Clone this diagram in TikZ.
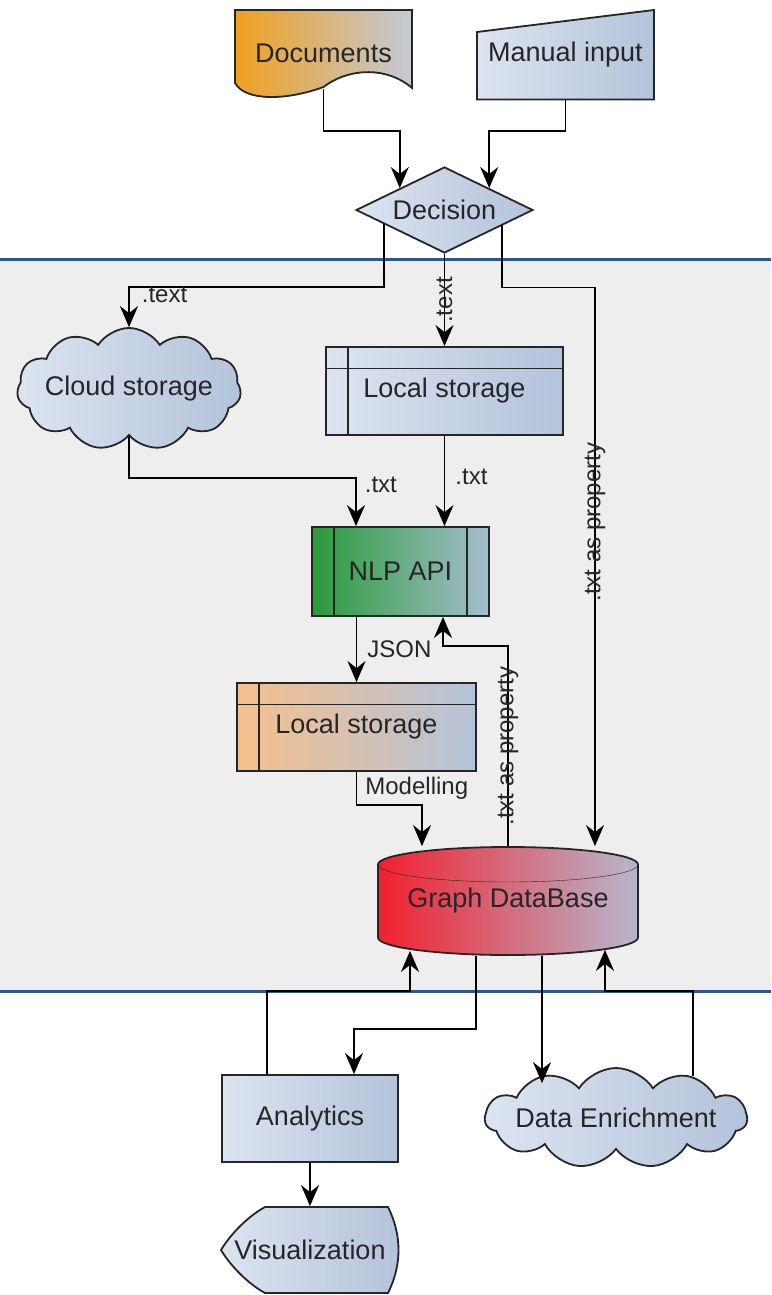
\documentclass[tikz,border=0pt]{standalone}
\usepackage{fontspec}
\setmainfont{Liberation Sans}
\usetikzlibrary{arrows.meta,shapes.geometric,shapes.symbols,backgrounds,positioning}
\definecolor{bandgray}{HTML}{EEEEEE}
\definecolor{bandblue}{HTML}{2F5597}
\definecolor{edgegray}{HTML}{262626}
\definecolor{pale}{HTML}{DCE4F1}
\definecolor{steel}{HTML}{B3C3DA}
\definecolor{docorange}{HTML}{F0A020}
\definecolor{docgray}{HTML}{C3CAD6}
\definecolor{nlpgreen}{HTML}{2A9A3A}
\definecolor{nlpgray}{HTML}{A6BECE}
\definecolor{peach}{HTML}{F6C08C}
\definecolor{dbred}{HTML}{F2202E}
\definecolor{dbgray}{HTML}{B7B7CC}
\definecolor{txt}{HTML}{262626}
\newcommand\boxfont{\fontsize{27}{30}\selectfont}
\newcommand\lblfont{\fontsize{24}{27}\selectfont}

\begin{document}
\begin{tikzpicture}[x=1pt,y=-1pt,line width=1.8pt,
  outline/.style={draw=edgegray,line width=1.8pt,left color=pale,right color=steel},
  plain/.style={text=txt,font=\boxfont},
  box/.style={rectangle,outline,plain},
  store/.style={box,path picture={
    \draw[edgegray,line width=1.8pt]
      ([yshift=-21.5pt]path picture bounding box.north west) -- ([yshift=-21.5pt]path picture bounding box.north east)
      ([xshift=22pt]path picture bounding box.north west) -- ([xshift=22pt]path picture bounding box.south west);}},
  proc/.style={box,left color=nlpgreen,right color=nlpgray,path picture={
    \draw[edgegray,line width=1.8pt]
      ([xshift=22pt]path picture bounding box.north west) -- ([xshift=22pt]path picture bounding box.south west)
      ([xshift=-22pt]path picture bounding box.north east) -- ([xshift=-22pt]path picture bounding box.south east);}},
  decision/.style={diamond,aspect=2.06,outline,plain,minimum width=177pt,minimum height=86pt},
  cloudy/.style={cloud,cloud puffs=11,cloud puff arc=115,cloud ignores aspect,outline,plain},
  arr/.style={draw=black,line width=1.8pt,-{Stealth[length=21pt,width=18pt,inset=7pt]}},
  lbl/.style={text=txt,font=\lblfont}]
\tikzstyle{every node}+=[inner sep=0pt]
\useasboundingbox (0,0) rectangle (771,1295);

\node[plain,minimum width=177pt,minimum height=87pt] (docs) at (323.5,53.5) {Documents};
\node[plain,minimum width=177pt,minimum height=89pt] (man) at (565.5,55) {Manual input};
\node[decision] (dec) at (444.5,210) {Decision};
\node[cloudy,inner xsep=-15pt,minimum width=224pt,minimum height=122pt] (cloudst) at (129,389) {Cloud storage};
\node[store,minimum width=237pt,minimum height=88pt] (locA) at (444.5,391) {Local storage};
\node[proc,minimum width=177pt,minimum height=89pt] (nlp) at (400.5,571.5) {NLP API};
\node[store,left color=peach,minimum width=239pt,minimum height=88pt] (locB) at (356.5,727) {Local storage};
\node[plain,minimum width=260pt,minimum height=108pt] (gdb) at (508,901) {Graph DataBase};
\node[box,minimum width=176pt,minimum height=87pt] (ana) at (310,1118.5) {Analytics};
\node[cloudy,inner xsep=-25pt,minimum width=262pt,minimum height=100pt] (enr) at (616,1118) {Data Enrichment};
\node[plain,minimum width=178pt,minimum height=86pt] (vis) at (310,1250) {Visualization};
\coordinate (gdbout) at ([xshift=34pt]gdb.south);
\coordinate (enrin) at ([xshift=-74pt,yshift=-16pt]enr.north);

\begin{scope}[on background layer]
\fill[bandgray] (0,259) rectangle (771,991);
\draw[bandblue,line width=3pt] (0,259) -- (771,259) (0,991) -- (771,991);
\path[outline,left color=docorange,right color=docgray] (235,10) -- (412,10) -- (412,88)
  .. controls (388,67) and (350,67) .. (323.5,87) .. controls (285,101) and (245,101) .. (235,83) -- cycle;
\path[outline] (477,32) -- (654,10) -- (654,99.5) -- (477,99.5) -- cycle;
\path[outline,left color=dbred,right color=dbgray] (378,864.5) -- (378,937.5)
  arc[start angle=180,end angle=360,x radius=130pt,y radius=17.5pt] -- (638,864.5)
  arc[start angle=0,end angle=180,x radius=130pt,y radius=17.5pt] -- cycle;
\draw[edgegray] (378,864.5) arc[start angle=180,end angle=360,x radius=130pt,y radius=17.5pt];
\path[outline] (265,1207) -- (388,1207) .. controls (402,1235) and (402,1265) .. (388,1293) -- (265,1293)
  .. controls (245,1282) and (228,1262) .. (221,1250) .. controls (228,1238) and (245,1218) .. cycle;
\end{scope}

\draw[arr] ([yshift=9pt]docs.south) -- ++(0,42) -| (dec.north west);
\draw[arr] (man.south) -- ++(0,30.5) -| (dec.north east);
\draw[arr] (dec.193) -- ++(0,63) -| node[pos=0.5,anchor=north west,xshift=12pt,yshift=1pt,lbl] {.text} (cloudst.north);
\draw[arr] (dec.south) -- node[lbl,rotate=90] {.text} (locA.north);
\draw[arr] (dec.345) -- ++(0,62) -| node[pos=0.71,lbl,rotate=90] {.txt as property} ([xshift=87pt]gdb.north);
\draw[arr] (cloudst.south) -- ++(0,42) -| node[pos=0.5,anchor=north west,xshift=8pt,yshift=2pt,lbl] {.txt} ([xshift=-44.5pt]nlp.north);
\draw[arr] (locA.south) -- node[lbl,right=10pt,pos=0.45] {.txt} (locA.south |- nlp.north);
\draw[arr] (locB.north |- nlp.south) -- node[lbl,right=10pt] {JSON} (locB.north);
\draw[arr] (locB.south) -- node[lbl,right=8pt] {Modelling} ++(0,33) -| ([xshift=-86pt]gdb.north);
\draw[arr] (gdb.north) -- node[lbl,rotate=90] {.txt as property} ++(0,-200) -| ([xshift=42.5pt]nlp.south);
\draw[arr] ([xshift=-43pt]ana.north) -- ++(0,-83) -| ([shift={(-98pt,5pt)}]gdb.south);
\draw[arr] ([xshift=-32pt]gdb.south) -- ++(0,73) -| ([xshift=44pt]ana.north);
\draw[arr] (gdbout) -- (gdbout |- enrin);
\draw[arr] ([xshift=77pt,yshift=-9pt]enr.north) -- ++(0,-85) -| ([shift={(97pt,6pt)}]gdb.south);
\draw[arr] (ana.south) -- (vis.north);
\end{tikzpicture}
\end{document}
